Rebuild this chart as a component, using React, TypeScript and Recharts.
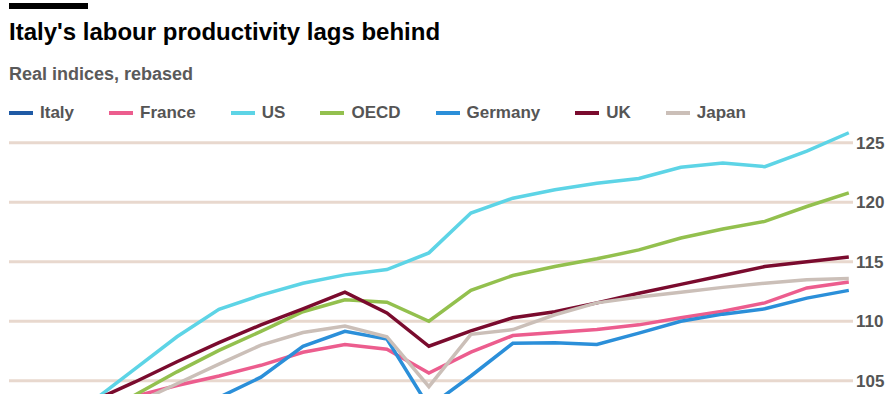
import { Line, LineChart, ReferenceLine, XAxis, YAxis } from 'recharts';

const WIDTH = 893;
const HEIGHT = 460;
const FONT = '"Liberation Sans", Arial, sans-serif';

const years = [
  1999, 2000, 2001, 2002, 2003, 2004, 2005, 2006, 2007, 2008, 2009,
  2010, 2011, 2012, 2013, 2014, 2015, 2016, 2017, 2018, 2019,
];

const italy = [
  100, 100.6, 100.9, 100.8, 101.2, 101.6, 102.0, 102.4, 102.3, 101.6, 99.6,
  100.9, 101.5, 101.2, 101.4, 101.9, 102.2, 102.5, 102.7, 102.9, 103.1,
];
const france = [
  100.8, 101.9, 102.8, 103.7, 104.6, 105.4, 106.3, 107.4, 108.05, 107.65, 105.65,
  107.4, 108.8, 109.05, 109.3, 109.7, 110.3, 110.85, 111.55, 112.8, 113.3,
];
const us = [
  100, 101.5, 103.3, 106.0, 108.7, 111.0, 112.2, 113.2, 113.9, 114.35, 115.75,
  119.1, 120.35, 121.05, 121.6, 122.0, 122.95, 123.3, 123.0, 124.3, 125.85,
];
const oecd = [
  100, 100.8, 101.9, 103.8, 105.75, 107.55, 109.15, 110.8, 111.8, 111.6, 110.0,
  112.6, 113.85, 114.6, 115.25, 116.0, 117.0, 117.75, 118.4, 119.65, 120.8,
];
const germany = [
  100, 100.7, 101.3, 101.9, 102.6, 103.6, 105.3, 107.9, 109.15, 108.5, 102.8,
  105.4, 108.15, 108.2, 108.05, 109.0, 110.0, 110.6, 111.05, 111.95, 112.6,
];
const uk = [
  100, 101.7, 103.3, 104.9, 106.6, 108.2, 109.7, 111.05, 112.45, 110.7, 107.9,
  109.2, 110.3, 110.8, 111.55, 112.35, 113.1, 113.85, 114.6, 115.0, 115.4,
];
const japan = [
  100, 100.6, 101.5, 103.1, 104.75, 106.4, 108.0, 109.05, 109.6, 108.7, 104.5,
  108.9, 109.3, 110.55, 111.55, 112.05, 112.45, 112.85, 113.2, 113.5, 113.6,
];

const yTicks = [100, 105, 110, 115, 120, 125];

const series = [
  { key: 'italy', name: 'Italy', color: '#1f5aa5', values: italy },
  { key: 'france', name: 'France', color: '#ec5d8e', values: france },
  { key: 'us', name: 'US', color: '#5dd4e6', values: us },
  { key: 'oecd', name: 'OECD', color: '#93c04e', values: oecd },
  { key: 'germany', name: 'Germany', color: '#2b8fd9', values: germany },
  { key: 'uk', name: 'UK', color: '#7a0b2e', values: uk },
  { key: 'japan', name: 'Japan', color: '#cbbfb8', values: japan },
];

const data = years.map((year, i) => {
  const row: Record<string, number> = { year };
  series.forEach((s) => {
    row[s.key] = s.values[i];
  });
  return row;
});

function Legend() {
  return (
    <div
      style={{
        position: 'absolute',
        left: 9,
        top: 102,
        display: 'flex',
        alignItems: 'center',
        gap: 35,
        fontFamily: FONT,
        fontWeight: 700,
        fontSize: 17,
        color: '#555',
        lineHeight: '22px',
      }}
    >
      {series.map((s) => (
        <div key={s.key} style={{ display: 'flex', alignItems: 'center' }}>
          <span style={{ width: 24, height: 4, background: s.color, marginRight: 7 }} />
          <span>{s.name}</span>
        </div>
      ))}
    </div>
  );
}

export default function App() {
  return (
    <div
      style={{
        position: 'absolute',
        left: 0,
        top: 0,
        width: WIDTH,
        height: 394,
        overflow: 'hidden',
        background: '#fff',
      }}
    >
      <div style={{ position: 'absolute', left: 9, top: 3, width: 79, height: 6, background: '#000' }} />
      <div
        style={{
          position: 'absolute',
          left: 9,
          top: 17,
          fontFamily: FONT,
          fontWeight: 700,
          fontSize: 24,
          lineHeight: '30px',
          color: '#000',
          whiteSpace: 'nowrap',
        }}
      >
        Italy's labour productivity lags behind
      </div>
      <div
        style={{
          position: 'absolute',
          left: 9,
          top: 62,
          fontFamily: FONT,
          fontWeight: 700,
          fontSize: 18,
          lineHeight: '24px',
          color: '#5a5a5a',
          whiteSpace: 'nowrap',
        }}
      >
        Real indices, rebased
      </div>
      <Legend />
      <div style={{ position: 'absolute', left: 0, top: 0 }}>
        <LineChart
          width={WIDTH}
          height={HEIGHT}
          data={data}
          margin={{ top: 125, right: 0, bottom: 15, left: 9 }}
        >
          <XAxis dataKey="year" type="number" domain={[1999, 2019.1]} hide />
          <YAxis
            orientation="right"
            width={40}
            domain={[100, 126.5]}
            ticks={yTicks}
            axisLine={false}
            tickLine={false}
            tickSize={0}
            tickMargin={3}
            tick={{ fill: '#555', fontSize: 17, fontWeight: 700, fontFamily: FONT }}
          />
          {/* horizontal rules at each labelled value */}
          {yTicks.map((t) => (
            <ReferenceLine key={t} y={t} stroke="#e8d8ce" strokeWidth={3} />
          ))}
          {series.map((s) => (
            <Line
              key={s.key}
              type="linear"
              dataKey={s.key}
              name={s.name}
              stroke={s.color}
              strokeWidth={3.5}
              dot={false}
              isAnimationActive={false}
            />
          ))}
        </LineChart>
      </div>
    </div>
  );
}
